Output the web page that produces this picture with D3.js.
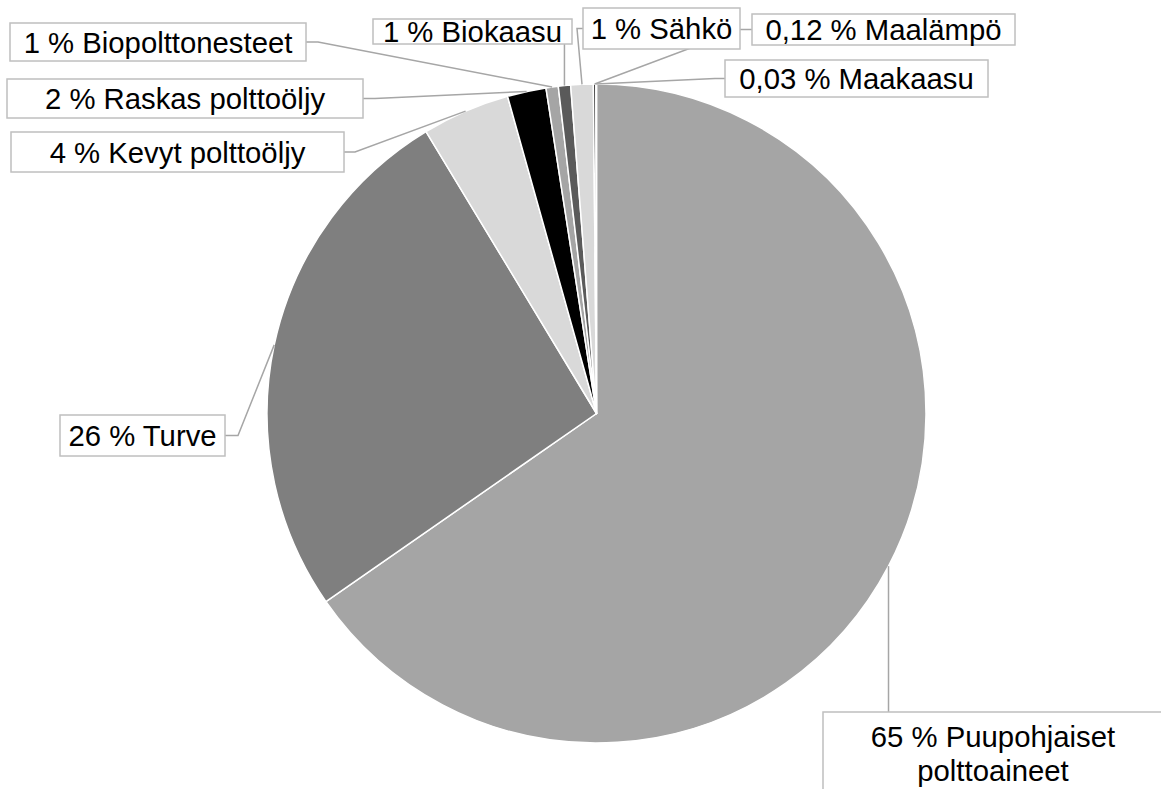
<!DOCTYPE html>
<html>
<head>
<meta charset="utf-8">
<script src="https://cdn.jsdelivr.net/npm/d3@7"></script>
<style>
  body { margin: 0; background: #fff; overflow: hidden; }
  text { font-family: Arial, "Liberation Sans", sans-serif; fill: #000; }
</style>
</head>
<body>
<div id="chart"></div>
<script>
// data (percent shares)
const categories = ["Puupohjaiset polttoaineet", "Turve", "Kevyt polttoöljy", "Raskas polttoöljy",
  "Biopolttonesteet", "Biokaasu", "Sähkö", "Maalämpö", "Maakaasu"];
const values = [65.3, 26.0, 4.3, 1.9, 0.6, 0.6, 1.1, 0.12, 0.03];
const pctLabels = ["65", "26", "4", "2", "1", "1", "1", "0,12", "0,03"];

// styling
const colors = ["#a5a5a5", "#7f7f7f", "#d9d9d9", "#000000", "#a5a5a5", "#5a5a5a", "#d9d9d9", "#262626", "#7f7f7f"];

// label boxes: x, y, w, h, where the leader leaves the box, and its elbow
const labelLayout = [
  { x: 823, y: 712, w: 345, h: 95, side: "top", wrap: true },
  { x: 60, y: 415, w: 165, h: 41, side: "right", elbow: 13 },
  { x: 11, y: 132, w: 333, h: 40, side: "right", elbow: 11 },
  { x: 7, y: 79, w: 356, h: 39, side: "right", elbow: 12 },
  { x: 10, y: 23, w: 296, h: 38, side: "right", elbow: 12 },
  { x: 373, y: 19, w: 199, h: 25, side: "bottomAbove" },
  { x: 583, y: 8, w: 157, h: 41, side: "left", elbow: 6 },
  { x: 752, y: 14, w: 263, h: 31, side: "left", elbow: 12 },
  { x: 725, y: 60, w: 263, h: 37, side: "left", elbow: 10 }
];

const W = 1161, H = 789;
const svg = d3.select("#chart").append("svg").attr("width", W).attr("height", H);
const cx = 596.5, cy = 413.5, radius = 329.5;
const fontSize = 29.3;

const pie = d3.pie().sort(null).value(d => d)(values);
const arc = d3.arc().innerRadius(0).outerRadius(radius);

const pieG = svg.append("g").attr("transform", `translate(${cx},${cy})`);
pieG.selectAll("path")
  .data(pie)
  .join("path")
  .attr("d", arc)
  .attr("fill", (d, i) => colors[i])
  .attr("stroke", "#fff")
  .attr("stroke-width", 1.5)
  .attr("stroke-linejoin", "round");

// point on the rim at each slice's middle angle
function rimPoint(d) {
  const a = (d.startAngle + d.endAngle) / 2;
  return [cx + radius * Math.sin(a), cy - radius * Math.cos(a)];
}

const line = d3.line();
const leaders = svg.append("g");
const boxes = svg.append("g");

pie.forEach((d, i) => {
  const L = labelLayout[i];
  const end = rimPoint(d);
  let pts;
  if (L.side === "top") {
    pts = [[end[0], L.y], end];
  } else if (L.side === "bottomAbove") {
    pts = [[end[0], L.y + L.h], end];
  } else if (L.side === "right") {
    const sy = L.y + L.h / 2;
    pts = [[L.x + L.w, sy], [L.x + L.w + L.elbow, sy], end];
  } else {
    const sy = L.y + L.h / 2;
    pts = [[L.x, sy], [L.x - L.elbow, sy], end];
  }
  leaders.append("path")
    .attr("d", line(pts))
    .attr("fill", "none")
    .attr("stroke", "#a6a6a6")
    .attr("stroke-width", 1.5);
});

labelLayout.forEach((L, i) => {
  boxes.append("rect")
    .attr("x", L.x).attr("y", L.y)
    .attr("width", L.w).attr("height", L.h)
    .attr("fill", "#fff")
    .attr("stroke", "#bfbfbf")
    .attr("stroke-width", 1.5);
  const full = `${pctLabels[i]} % ${categories[i]}`;
  if (L.wrap) {
    const parts = categories[i].split(" ");
    const lines = [`${pctLabels[i]} % ${parts[0]}`, parts.slice(1).join(" ")];
    lines.forEach((t, k) => {
      boxes.append("text")
        .attr("x", 993)
        .attr("y", L.y + 35 + k * 33.5)
        .attr("text-anchor", "middle")
        .attr("font-size", fontSize)
        .text(t);
    });
  } else {
    boxes.append("text")
      .attr("x", L.x + L.w / 2)
      .attr("y", L.y + L.h / 2 + fontSize * 0.36)
      .attr("text-anchor", "middle")
      .attr("font-size", fontSize)
      .text(full);
  }
});
</script>
</body>
</html>
